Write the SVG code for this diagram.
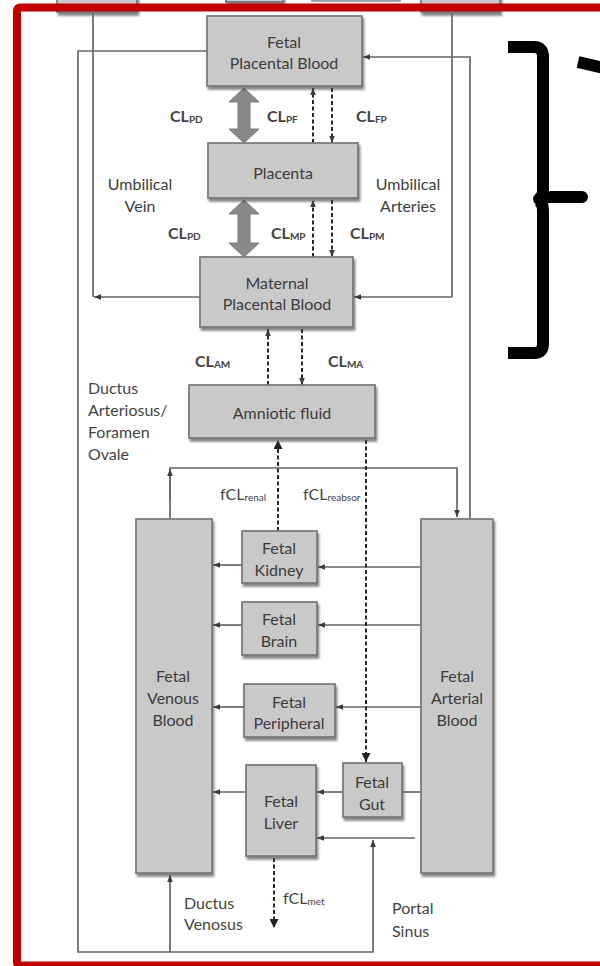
<svg xmlns="http://www.w3.org/2000/svg" width="600" height="966" viewBox="0 0 600 966">
<style>
.box{fill:#c9c9c9;stroke:#777;stroke-width:1.7;filter:url(#sh)}
.t{font-family:Lato,"Open Sans","Liberation Sans",sans-serif;font-size:16px;fill:#3c3c3c;text-anchor:middle;dominant-baseline:central}
.l{font-family:Lato,"Open Sans","Liberation Sans",sans-serif;font-size:16px;fill:#444;dominant-baseline:central}
.cl{font-family:Lato,"Open Sans","Liberation Sans",sans-serif;font-size:16px;font-weight:bold;fill:#444;dominant-baseline:central}
.sub{font-size:10px;font-weight:bold}
.c{fill:none;stroke:#666;stroke-width:1.7}
.d{fill:none;stroke:#2a2a2a;stroke-width:2;stroke-dasharray:4 2.5}
.fat{fill:#888;stroke:#7a7a7a;stroke-width:1}
</style>
<defs>
<filter id="sh" x="-10%" y="-10%" width="130%" height="130%">
<feDropShadow dx="1.5" dy="3" stdDeviation="1.2" flood-color="#444" flood-opacity="0.65"/>
</filter>
<marker id="ah" viewBox="0 0 10 10" refX="10" refY="5" markerWidth="7" markerHeight="7" markerUnits="userSpaceOnUse" orient="auto">
<path d="M0,1 L10,5 L0,9 z" fill="#3a3a3a"/>
</marker>
<marker id="dh" viewBox="0 0 10 10" refX="10" refY="5" markerWidth="9" markerHeight="9" markerUnits="userSpaceOnUse" orient="auto">
<path d="M0,0 L10,5 L0,10 z" fill="#222"/>
</marker>
</defs>
<rect width="600" height="966" fill="#fff"/>

<g id="top-partials">
<rect x="57" y="-20" width="80" height="32" class="box"/>
<rect x="226" y="-20" width="57" height="22" class="box"/>
<rect x="312" y="-20" width="88" height="21" fill="#f4f4f4" stroke="#888" stroke-width="1.5"/>
<rect x="421" y="-20" width="79" height="32" class="box"/>
</g>

<g id="connectors">
<polyline class="c" points="207,51 78,51 78,952 373,952 373,840" marker-end="url(#ah)"/>
<line class="c" x1="170" y1="952" x2="170" y2="875" marker-end="url(#ah)"/>
<polyline class="c" points="470,518 470,57 363,57" marker-end="url(#ah)"/>
<line class="c" x1="93" y1="13" x2="93" y2="297"/>
<line class="c" x1="200" y1="297" x2="94" y2="297" marker-end="url(#ah)"/>
<line class="c" x1="452" y1="13" x2="452" y2="297"/>
<line class="c" x1="452" y1="297" x2="354" y2="297" marker-end="url(#ah)"/>
<polyline class="c" points="170,519 170,468 457,468 457,517" marker-end="url(#ah)"/>
<line class="c" x1="170" y1="500" x2="170" y2="469" marker-end="url(#ah)"/>
<line class="c" x1="421" y1="567" x2="318" y2="567" marker-end="url(#ah)"/>
<line class="c" x1="242" y1="565" x2="213" y2="565" marker-end="url(#ah)"/>
<line class="c" x1="421" y1="625" x2="318" y2="625" marker-end="url(#ah)"/>
<line class="c" x1="242" y1="625" x2="213" y2="625" marker-end="url(#ah)"/>
<line class="c" x1="421" y1="707" x2="336" y2="707" marker-end="url(#ah)"/>
<line class="c" x1="244" y1="707" x2="213" y2="707" marker-end="url(#ah)"/>
<line class="c" x1="421" y1="792" x2="402" y2="792"/>
<line class="c" x1="343" y1="792" x2="317" y2="792" marker-end="url(#ah)"/>
<line class="c" x1="246" y1="792" x2="213" y2="792" marker-end="url(#ah)"/>
<line class="c" x1="415" y1="838" x2="317" y2="838" marker-end="url(#ah)"/>
<polygon class="fat" points="244,88 259,102 250,102 250,129 259,129 244,143 229,129 238,129 238,102 229,102"/>
<polygon class="fat" points="244,200 259,214 250,214 250,243 259,243 244,257 229,243 238,243 238,214 229,214"/>
<line class="d" x1="313" y1="143" x2="313" y2="88" marker-end="url(#ah)"/>
<line class="d" x1="332" y1="88" x2="332" y2="143" marker-end="url(#ah)"/>
<line class="d" x1="313" y1="257" x2="313" y2="200" marker-end="url(#ah)"/>
<line class="d" x1="332" y1="200" x2="332" y2="257" marker-end="url(#ah)"/>
<line class="d" x1="268" y1="385" x2="268" y2="329" marker-end="url(#ah)"/>
<line class="d" x1="302" y1="329" x2="302" y2="385" marker-end="url(#ah)"/>
<line class="d" x1="278" y1="531" x2="278" y2="440" marker-end="url(#dh)"/>
<line class="d" x1="366" y1="440" x2="366" y2="762" marker-end="url(#dh)"/>
<line class="d" x1="274" y1="858" x2="274" y2="928" marker-end="url(#dh)"/>
</g>

<g id="fetal-placental-blood"><rect x="207" y="16" width="155" height="70" class="box"/><text class="t" x="284" y="41">Fetal</text><text class="t" x="284" y="62">Placental Blood</text></g>
<g id="placenta"><rect x="208" y="143" width="150" height="55" class="box"/><text class="t" x="283" y="172">Placenta</text></g>
<g id="maternal-placental-blood"><rect x="200" y="257" width="153" height="70" class="box"/><text class="t" x="277" y="282">Maternal</text><text class="t" x="277" y="303">Placental Blood</text></g>
<g id="amniotic-fluid"><rect x="189" y="385" width="186" height="53" class="box"/><text class="t" x="282" y="412">Amniotic fluid</text></g>
<g id="fetal-venous-blood"><rect x="136" y="519" width="76" height="354" class="box"/><text class="t" x="173" y="675">Fetal</text><text class="t" x="173" y="697">Venous</text><text class="t" x="173" y="719">Blood</text></g>
<g id="fetal-arterial-blood"><rect x="421" y="519" width="72" height="354" class="box"/><text class="t" x="457" y="675">Fetal</text><text class="t" x="457" y="697">Arterial</text><text class="t" x="457" y="719">Blood</text></g>
<g id="fetal-kidney"><rect x="242" y="531" width="75" height="52" class="box"/><text class="t" x="279" y="547">Fetal</text><text class="t" x="279" y="569">Kidney</text></g>
<g id="fetal-brain"><rect x="242" y="602" width="75" height="53" class="box"/><text class="t" x="279" y="618">Fetal</text><text class="t" x="279" y="640">Brain</text></g>
<g id="fetal-peripheral"><rect x="244" y="684" width="91" height="53" class="box"/><text class="t" x="289" y="701">Fetal</text><text class="t" x="289" y="722">Peripheral</text></g>
<g id="fetal-gut"><rect x="343" y="763" width="59" height="54" class="box"/><text class="t" x="372" y="781">Fetal</text><text class="t" x="372" y="803">Gut</text></g>
<g id="fetal-liver"><rect x="246" y="765" width="70" height="91" class="box"/><text class="t" x="281" y="800">Fetal</text><text class="t" x="281" y="822">Liver</text></g>

<g id="labels">
<text class="t" x="140" y="183">Umbilical</text><text class="t" x="140" y="205">Vein</text>
<text class="t" x="408" y="183">Umbilical</text><text class="t" x="408" y="205">Arteries</text>
<text class="l" x="88" y="387">Ductus</text><text class="l" x="88" y="409">Arteriosus/</text><text class="l" x="88" y="431">Foramen</text><text class="l" x="88" y="453">Ovale</text>
<text class="l" x="184" y="902">Ductus</text><text class="l" x="184" y="923">Venosus</text>
<text class="l" x="392" y="907">Portal</text><text class="l" x="392" y="930">Sinus</text>
<text class="cl" x="170" y="115">CL<tspan class="sub" dy="4">PD</tspan></text>
<text class="cl" x="267" y="115">CL<tspan class="sub" dy="4">PF</tspan></text>
<text class="cl" x="356" y="115">CL<tspan class="sub" dy="4">FP</tspan></text>
<text class="cl" x="168" y="232">CL<tspan class="sub" dy="4">PD</tspan></text>
<text class="cl" x="271" y="232">CL<tspan class="sub" dy="4">MP</tspan></text>
<text class="cl" x="350" y="232">CL<tspan class="sub" dy="4">PM</tspan></text>
<text class="cl" x="195" y="360">CL<tspan class="sub" dy="4">AM</tspan></text>
<text class="cl" x="328" y="360">CL<tspan class="sub" dy="4">MA</tspan></text>
<text class="l" x="220" y="493">fCL<tspan font-size="10" dy="4">renal</tspan></text>
<text class="l" x="303" y="493">fCL<tspan font-size="10" dy="4">reabsor</tspan></text>
<text class="l" x="283" y="897">fCL<tspan font-size="10" dy="4">met</tspan></text>
</g>

<rect id="frame" x="17" y="7.5" width="700" height="958" rx="3" fill="none" stroke="#c00000" stroke-width="8"/>

<g id="bracket" fill="none" stroke="#000" stroke-width="12" stroke-linecap="butt">
<path d="M508,47 L534,47 Q543,47 543,57 L543,190 Q543,198 537,200"/>
<path d="M539,199 Q543,197 552,197 L582,197" stroke-linecap="round"/>
<path d="M537,200 Q543,202 543,210 L543,344 Q543,353 534,353 L508,353"/>
<line x1="578" y1="62" x2="604" y2="68"/>
</g>
</svg>
